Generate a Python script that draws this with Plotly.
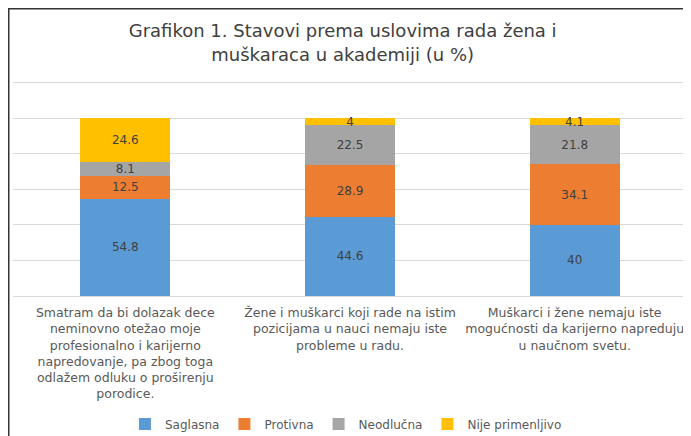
import plotly.graph_objects as go

categories = [
    "Smatram da bi dolazak dece<br>neminovno otežao moje<br>profesionalno i karijerno<br>napredovanje, pa zbog toga<br>odlažem odluku o proširenju<br>porodice.",
    "Žene i muškarci koji rade na istim<br>pozicijama u nauci nemaju iste<br>probleme u radu.",
    "Muškarci i žene nemaju iste<br>mogućnosti da karijerno napreduju<br>u naučnom svetu.",
]
saglasna = [54.8, 44.6, 40]
protivna = [12.5, 28.9, 34.1]
neodlucna = [8.1, 22.5, 21.8]
nije_primenljivo = [24.6, 4, 4.1]

series = [
    ("Saglasna", saglasna, "#5B9BD5"),
    ("Protivna", protivna, "#ED7D31"),
    ("Neodlučna", neodlucna, "#A5A5A5"),
    ("Nije primenljivo", nije_primenljivo, "#FFC000"),
]

FONT = "DejaVu Sans"
fig = go.Figure()
for name, vals, color in series:
    fig.add_trace(go.Bar(
        name=name, x=categories, y=vals,
        marker=dict(color=color, line=dict(width=0)),
        text=[str(v) for v in vals],
        textposition="inside", insidetextanchor="middle",
        constraintext="none", textangle=0,
        textfont=dict(family=FONT, size=12, color="#404040"),
        cliponaxis=False,
    ))

fig.update_layout(
    width=683, height=428,
    barmode="stack", bargap=0.6,
    paper_bgcolor="white", plot_bgcolor="white",
    margin=dict(l=5, r=4, t=71, b=140, autoexpand=False),
    title=dict(
        text="Grafikon 1. Stavovi prema uslovima rada žena i<br>muškaraca u akademiji (u %)",
        x=0.49, xanchor="center", y=0.932, yanchor="middle",
        font=dict(family=FONT, size=18, color="#404040"),
    ),
    font=dict(family=FONT, color="#595959"),
    legend=dict(
        orientation="h", x=0.494, xanchor="center", y=-0.59, yanchor="middle",
        font=dict(family=FONT, size=12, color="#595959"),
        traceorder="normal", itemwidth=30,
    ),
)
fig.update_xaxes(
    showline=True, linecolor="#D9D9D9", linewidth=1,
    tickfont=dict(family=FONT, size=12.5, color="#595959"),
    ticks="", tickangle=0, automargin=False, ticklabelstandoff=5,
)
fig.update_yaxes(
    range=[0, 122], tick0=0, dtick=20, showticklabels=False,
    showgrid=True, gridcolor="#D9D9D9", gridwidth=1,
    zeroline=False, automargin=False,
)
fig.add_shape(
    type="rect", xref="paper", yref="paper",
    x0=-0.0063, x1=1.2, y0=-0.8, y1=1.3237,
    line=dict(color="#333333", width=1.5), fillcolor="rgba(0,0,0,0)", layer="above",
)

fig.write_html("out.html")
